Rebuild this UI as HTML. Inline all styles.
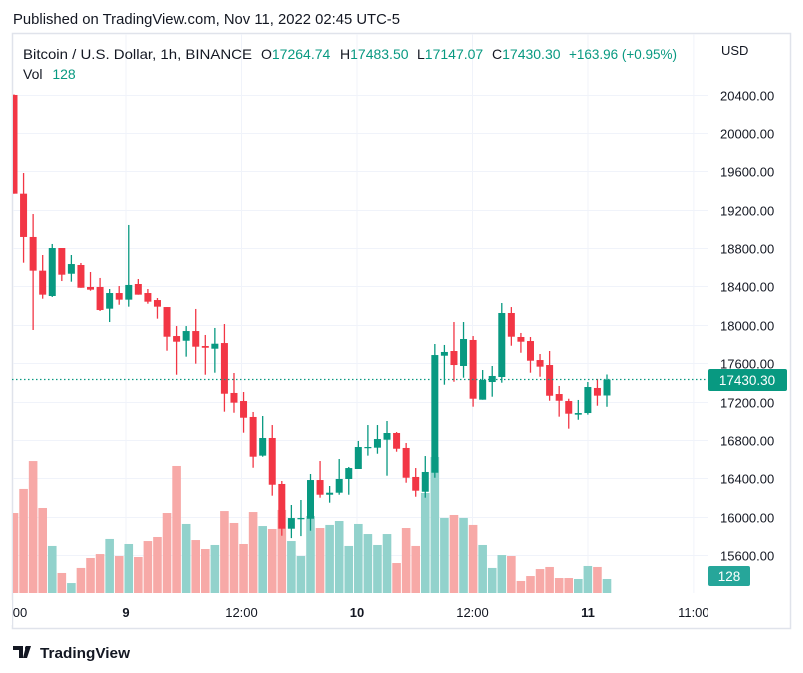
<!DOCTYPE html>
<html><head><meta charset="utf-8"><style>
html,body{margin:0;padding:0;background:#fff;width:803px;height:673px;overflow:hidden}
svg{display:block;font-family:"Liberation Sans","DejaVu Sans",sans-serif}
</style></head><body>
<svg id="chart" width="803" height="673" viewBox="0 0 803 673" xmlns="http://www.w3.org/2000/svg">
  <text x="13" y="24" font-size="15" fill="#131722" textLength="387" lengthAdjust="spacingAndGlyphs">Published on TradingView.com, Nov 11, 2022 02:45 UTC-5</text>
  <rect x="12.5" y="33.5" width="778" height="595" fill="#fff" stroke="#e0e3eb" stroke-width="1.5"/>
  <g id="grid"></g>
  <g id="vol"></g>
  <g id="candles"></g>
  <line x1="12" x2="708" y1="379.5" y2="379.5" stroke="#089981" stroke-width="1.2" stroke-dasharray="1.5 2.5"/>
  <g id="yaxis"></g>
  <g id="xaxis"></g>
  <text x="721" y="55" font-size="13" fill="#131722">USD</text>
  <g font-size="14">
    <text x="23" y="59" fill="#131722" textLength="229" lengthAdjust="spacingAndGlyphs">Bitcoin / U.S. Dollar, 1h, BINANCE</text>
    <text x="261" y="59" fill="#131722">O<tspan fill="#089981">17264.74</tspan></text>
    <text x="340" y="59" fill="#131722">H<tspan fill="#089981">17483.50</tspan></text>
    <text x="417" y="59" fill="#131722">L<tspan fill="#089981">17147.07</tspan></text>
    <text x="492" y="59" fill="#131722">C<tspan fill="#089981">17430.30</tspan></text>
    <text x="569" y="59" fill="#089981" textLength="108" lengthAdjust="spacingAndGlyphs">+163.96 (+0.95%)</text>
    <text x="23" y="79" fill="#131722">Vol <tspan dx="6" fill="#089981">128</tspan></text>
  </g>
  <rect x="708" y="369" width="79" height="22" rx="2" fill="#089981"/>
  <text x="747" y="385" font-size="13.5" fill="#fff" text-anchor="middle">17430.30</text>
  <rect x="708" y="566" width="42" height="20" rx="2" fill="#26a69a"/>
  <text x="729" y="581" font-size="13.5" fill="#fff" text-anchor="middle">128</text>
  <g>
    <path d="M13 646h10v12h-4v-8h-6z M26 646h5l-4 12h-4z" fill="#131722"/>
    <circle cx="27" cy="648" r="2" fill="#131722"/>
    <text x="40" y="658" font-size="15" font-weight="bold" fill="#131722" textLength="90" lengthAdjust="spacingAndGlyphs">TradingView</text>
  </g>
</svg>
<script>
const opens  = [20395,19367,18916,18565,18301,18801,18533,18624,18395,18395,18169,18332,18263,18426,18332,18259,18186,17884,17835,17936,17780,17752,17811,17291,17207,17041,16638,16822,16343,15877,15981,15981,16384,16231,16252,16395,16499,16721,16721,16804,16874,16718,16416,16262,16460,17679,17728,17572,17843,17221,17405,17457,18124,17874,17832,17634,17582,17280,17207,17065,17082,17343,17264.74];
const highs  = [20400,19582,19155,18728,18843,18801,18728,18645,18551,18489,18374,18405,19041,18478,18374,18280,18186,17988,17988,18166,17895,17968,18009,17499,17301,17093,17051,16957,16374,16124,16176,16447,16582,16322,16603,16520,16791,16957,16957,16999,16884,16770,16509,16634,17801,17791,18030,18030,17884,17530,17572,18228,18186,17916,17874,17697,17728,17364,17231,17218,17405,17437,17483.5];
const lows   = [19367,18648,17947,18273,18291,18457,18450,18387,18356,18145,18030,18210,18190,18315,18221,18065,17731,17481,17669,17596,17481,17502,17096,17085,16877,16512,16627,16221,15804,15779,15800,15856,16200,16148,16231,16231,16499,16638,16658,16429,16679,16356,16210,16200,16408,17377,17408,17450,17148,17221,17252,17398,17783,17710,17502,17460,17210,17044,16919,17012,17065,17158,17147.07];
const closes = [19367,18916,18565,18315,18801,18523,18634,18387,18367,18155,18332,18263,18416,18315,18242,18190,17877,17825,17936,17773,17762,17804,17283,17190,17033,16627,16822,16335,15877,15988,15988,16384,16231,16252,16395,16509,16728,16728,16811,16874,16710,16408,16273,16468,17686,17718,17582,17853,17231,17426,17468,18124,17877,17825,17627,17565,17262,17210,17075,17082,17353,17263,17430.3];
const volumes = [731,951,1206,777,430,183,91,229,320,356,494,338,448,329,475,512,731,1161,631,484,402,439,749,640,448,740,612,585,759,475,338,704,594,622,658,430,631,539,439,539,274,594,430,914,1243,686,713,686,622,439,229,347,338,110,155,219,238,137,137,128,247,238,128];
const priceTicks = [20400,20000,19600,19200,18800,18400,18000,17600,17200,16800,16400,16000,15600];
const timeLabels = ["00","9","12:00","10","12:00","11","11:00"];
const timeHours = [-12,0,12,24,36,48,59];   // hours relative to Nov 9 00:00
const timeBold = [false,true,false,true,false,true,false];

const NS="http://www.w3.org/2000/svg";
const yOf = p => 94.5 + (20400 - p) / 10.4167;
const xOfHour = h => 126 + h * 9.625;
const xOfIdx = i => 14 + i * (593 / 62);
const volTop = 593, volScale = 1/9.14;
const yVol = v => volTop - v * volScale;
function mk(tag, attrs, parent){const e=document.createElementNS(NS,tag);for(const k in attrs)e.setAttribute(k,attrs[k]);parent.appendChild(e);return e;}

const grid=document.getElementById('grid'), yaxis=document.getElementById('yaxis'), xaxis=document.getElementById('xaxis');
priceTicks.forEach(p=>{
  const y=Math.round(yOf(p))+0.5;
  const l=mk('line',{x1:13,x2:708,y1:y,y2:y,stroke:'#f0f3fa','stroke-width':1},grid);
  
  
  const t=mk('text',{x:720,y:y+5,'font-size':13,fill:'#131722'},yaxis);
  t.textContent=p.toFixed(2);
  
  
});
timeLabels.forEach((lab,i)=>{
  const x=xOfHour(timeHours[i]);
  if(i>0){
    const l=mk('line',{x1:x,x2:x,y1:34,y2:593,stroke:'#f0f3fa','stroke-width':1},grid);
    
    
  }
  const t=mk('text',{x:i===0?20:x,y:617,'font-size':13,fill:'#131722','text-anchor':'middle','font-weight':timeBold[i]?'bold':'normal'},xaxis);
  t.textContent=lab;
  
  
});
mk('rect',{x:708,y:600,width:80,height:25,fill:'#fff'},xaxis);
mk('rect',{x:0,y:600,width:12,height:25,fill:'#fff'},xaxis);

const vol=document.getElementById('vol'), cg=document.getElementById('candles');
const bw=7;
opens.forEach((o,i)=>{
  const c=closes[i], up=c>=o, x=xOfIdx(i);
  const col=up?'#089981':'#F23645';
  const vtop=yVol(volumes[i]);
  let vx=x-4.3, vw=8.6;
  if(vx<13){vw-= (13-vx); vx=13;}
  const vb=mk('rect',{x:vx,y:vtop,width:vw,height:volTop-vtop,fill:up?'#92d2cc':'#f7a9a7'},vol);
  
  
  const w=mk('line',{x1:x,x2:x,y1:yOf(highs[i]),y2:yOf(lows[i]),stroke:col,'stroke-width':1.3},cg);
  
  
  const top=yOf(Math.max(o,c)), bot=yOf(Math.min(o,c));
  let bx=x-bw/2, bwid=bw;
  if(bx<13){bwid-=(13-bx); bx=13;}
  const b=mk('rect',{x:bx,y:top,width:bwid,height:Math.max(1.2,bot-top),fill:col},cg);
  
  
});
</script>
</body></html>
